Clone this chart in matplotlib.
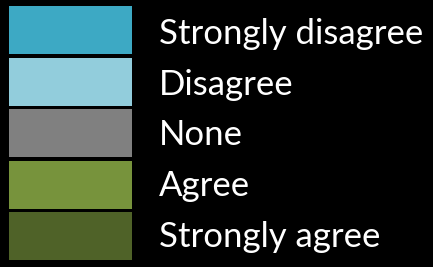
import matplotlib
matplotlib.use("Agg")
import matplotlib.pyplot as plt

labels = ["Strongly disagree", "Disagree", "None", "Agree", "Strongly agree"]
colors = ["#3DA9C4", "#92CDDC", "#808080", "#77933C", "#4F6228"]

fig = plt.figure(figsize=(4.33, 2.67), dpi=100, facecolor="black")
ax = fig.add_axes([0, 0, 1, 1])
ax.set_facecolor("black")
rows = range(len(labels))
ax.barh(list(rows), [123] * len(labels), left=9, height=0.93, color=colors)
# text lines are spaced a touch tighter than the swatches
for i, lab in zip(rows, labels):
    ax.text(159, 0.27 + i * 0.983, lab, color="white", fontsize=25, family="Lato",
            va="baseline", ha="left")
ax.set_xlim(0, 433)
ax.set_ylim(4.593, -0.581)
ax.axis("off")
fig.savefig("out.png", dpi=100, facecolor="black")
